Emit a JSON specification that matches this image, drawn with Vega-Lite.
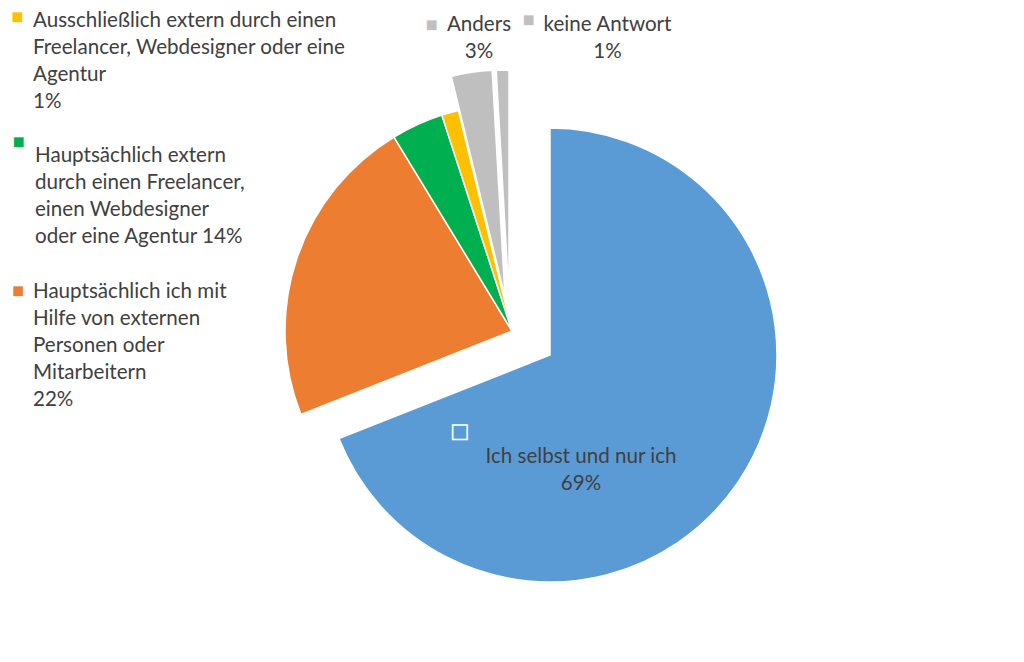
{
  "$schema": "https://vega.github.io/schema/vega-lite/v6.json",
  "description": "Wer pflegt die Website? Explodiertes Kreisdiagramm",
  "width": 1024,
  "height": 662,
  "autosize": {"type": "fit", "contains": "padding"},
  "background": "white",
  "view": {"stroke": null},
  "data": {
    "values": [
      {"i": 0, "cat": "Ich selbst und nur ich", "value": 69, "label": "Ich selbst und nur ich\n69%"},
      {"i": 1, "cat": "Hauptsächlich ich mit Hilfe von externen Personen oder Mitarbeitern", "value": 22.3, "label": "Hauptsächlich ich mit\nHilfe von externen\nPersonen oder\nMitarbeitern\n22%"},
      {"i": 2, "cat": "Hauptsächlich extern durch einen Freelancer, einen Webdesigner oder eine Agentur", "value": 3.7, "label": "Hauptsächlich extern\ndurch einen Freelancer,\neinen Webdesigner\noder eine Agentur 14%"},
      {"i": 3, "cat": "Ausschließlich extern durch einen Freelancer, Webdesigner oder eine Agentur", "value": 1.2, "label": "Ausschließlich extern durch einen\nFreelancer, Webdesigner oder eine\nAgentur\n1%"},
      {"i": 4, "cat": "Anders", "value": 2.9, "label": "Anders\n3%"},
      {"i": 5, "cat": "keine Antwort", "value": 0.9, "label": "keine Antwort\n1%"}
    ]
  },
  "encoding": {
    "theta": {"field": "value", "type": "quantitative", "stack": true},
    "order": {"field": "i", "type": "quantitative"},
    "color": {
      "field": "cat",
      "type": "nominal",
      "legend": null,
      "scale": {
        "domain": [
          "Ich selbst und nur ich",
          "Hauptsächlich ich mit Hilfe von externen Personen oder Mitarbeitern",
          "Hauptsächlich extern durch einen Freelancer, einen Webdesigner oder eine Agentur",
          "Ausschließlich extern durch einen Freelancer, Webdesigner oder eine Agentur",
          "Anders",
          "keine Antwort"
        ],
        "range": ["#5B9BD5", "#ED7D31", "#00B050", "#FFC000", "#BFBFBF", "#BFBFBF"]
      }
    }
  },
  "layer": [
    {
      "mark": {"type": "arc", "outerRadius": 227, "xOffset": 38, "yOffset": 24, "stroke": "white", "strokeWidth": 1.5},
      "encoding": {"opacity": {"condition": {"test": "datum.i == 0", "value": 1}, "value": 0}}
    },
    {
      "mark": {"type": "arc", "outerRadius": 227, "stroke": "white", "strokeWidth": 1.5},
      "encoding": {"opacity": {"condition": {"test": "datum.i >= 1 && datum.i <= 3", "value": 1}, "value": 0}}
    },
    {
      "mark": {"type": "arc", "outerRadius": 227, "xOffset": -7, "yOffset": -34, "stroke": "white", "strokeWidth": 1.5},
      "encoding": {"opacity": {"condition": {"test": "datum.i == 4", "value": 1}, "value": 0}}
    },
    {
      "mark": {"type": "arc", "outerRadius": 227, "xOffset": -3, "yOffset": -34, "stroke": "white", "strokeWidth": 1.5},
      "encoding": {"opacity": {"condition": {"test": "datum.i == 5", "value": 1}, "value": 0}}
    },
    {
      "mark": {
        "type": "text",
        "font": "Lato",
        "fontSize": 20.6,
        "lineHeight": 27,
        "lineBreak": "\n",
        "color": "#404040",
        "baseline": "alphabetic",
        "radius": {"expr": "datum.i == 0 ? 130 : 250"},
        "align": {"expr": "datum.i == 0 || datum.i >= 4 ? 'center' : 'left'"},
        "dx": {"expr": "[-38.5, -242, -372.7, -410.8, 3.8, 102.6][datum.i]"},
        "dy": {"expr": "[58.9, 46.5, 58.2, -63.5, -52.7, -50.1][datum.i]"}
      },
      "encoding": {
        "text": {"field": "label"},
        "color": {"value": "#404040"}
      }
    },
    {
      "mark": {
        "type": "text",
        "text": "■",
        "font": "DejaVu Sans",
        "fontSize": {"expr": "datum.i == 0 ? 19 : 15"},
        "stroke": "white",
        "strokeWidth": 1.5,
        "align": "center",
        "baseline": "middle",
        "radius": {"expr": "datum.i == 0 ? 130 : 250"},
        "dx": {"expr": "[-159.5, -257, -389.2, -426.3, -43.7, 23.6][datum.i]"},
        "dy": {"expr": "[26.9, 38.5, 36.7, -74, -60.2, -62.1][datum.i]"}
      }
    }
  ]
}
